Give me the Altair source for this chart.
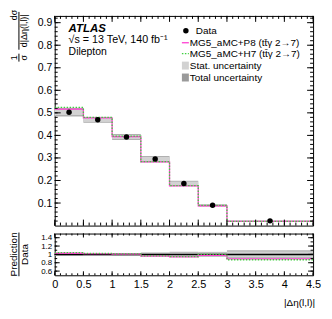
import altair as alt
import pandas as pd

# ---------------- data ----------------
edges = [0.0, 0.5, 1.0, 1.5, 2.0, 2.5, 3.0, 4.5]
data_vals = [0.503, 0.469, 0.393, 0.295, 0.187, 0.090, 0.021]
p8_vals = [0.517, 0.478, 0.395, 0.283, 0.176, 0.088, 0.0187]
h7_vals = [0.524, 0.480, 0.397, 0.284, 0.177, 0.090, 0.0183]
stat_rel = [0.025, 0.020, 0.022, 0.030, 0.042, 0.045, 0.070]
tot_rel = [0.038, 0.028, 0.034, 0.047, 0.063, 0.060, 0.100]

x_labels = [0, 0.5, 1, 1.5, 2, 2.5, 3, 3.5, 4, 4.5]
main_y_labels = [0.1, 0.2, 0.3, 0.4, 0.5, 0.6, 0.7, 0.8, 0.9]
ratio_y_labels = [0.6, 0.8, 1.0, 1.2, 1.4]
x_minor = [round(i * 0.1, 2) for i in range(46)]
main_y_minor = [round(i * 0.02, 2) for i in range(1, 47)]
ratio_y_minor = [round(0.5 + i * 0.1, 2) for i in range(1, 10)]

FONT = "Liberation Sans"
PINK = "#ff3fd2"
GREEN = "#3fcf3f"
STAT = "#d2d2d2"
TOT = "#b0b0b0"
W, H1, H2 = 260, 211, 42

lo = edges[:-1]
hi = edges[1:]
bins = pd.DataFrame({
    "lo": lo, "hi": hi,
    "c": [(a + b) / 2 for a, b in zip(lo, hi)],
    "data": data_vals,
    "tot_lo": [d * (1 - t) for d, t in zip(data_vals, tot_rel)],
    "tot_hi": [d * (1 + t) for d, t in zip(data_vals, tot_rel)],
    "stat_lo": [d * (1 - s) for d, s in zip(data_vals, stat_rel)],
    "stat_hi": [d * (1 + s) for d, s in zip(data_vals, stat_rel)],
    "rt_lo": [1 - t for t in tot_rel],
    "rt_hi": [1 + t for t in tot_rel],
    "rs_lo": [1 - s for s in stat_rel],
    "rs_hi": [1 + s for s in stat_rel],
})
step = pd.DataFrame({
    "x": edges,
    "p8": p8_vals + [p8_vals[-1]],
    "h7": h7_vals + [h7_vals[-1]],
    "rp8": [p / d for p, d in zip(p8_vals, data_vals)] + [p8_vals[-1] / data_vals[-1]],
    "rh7": [h / d for h, d in zip(h7_vals, data_vals)] + [h7_vals[-1] / data_vals[-1]],
})
one = pd.DataFrame({"a": [0]})

xs = alt.Scale(domain=[0, 4.5], nice=False, zero=False)
ys1 = alt.Scale(domain=[0, 0.93], nice=False, zero=False)
ys2 = alt.Scale(domain=[0.5, 1.5], nice=False, zero=False)

ax_main_y = alt.Axis(values=main_y_labels, format=".1f", ticks=False, domain=False, grid=False,
                     labelFontSize=10.5, labelPadding=3, title=None, labelFont=FONT, labelColor="black")
ax_ratio_y = alt.Axis(values=ratio_y_labels, format="~g", ticks=False, domain=False, grid=False,
                      labelFontSize=8, labelPadding=3, title=None, labelFont=FONT, labelColor="black")
ax_ratio_x = alt.Axis(values=x_labels, format="~g", ticks=False, domain=False, grid=False,
                      labelFontSize=11, labelPadding=3, title=None, labelFont=FONT, labelColor="black",
                      labelFlush=False)


def X1(f):
    return alt.X(f, type="quantitative", scale=xs, axis=None)


def X2(f):
    return alt.X(f, type="quantitative", scale=xs, axis=ax_ratio_x)


def Y1(f):
    return alt.Y(f, type="quantitative", scale=ys1, axis=ax_main_y)


def Y2(f):
    return alt.Y(f, type="quantitative", scale=ys2, axis=ax_ratio_y)


def txt(text, x, y, size=10, angle=0, align="center", **kw):
    return alt.Chart(one).mark_text(text=text, font=FONT, fontSize=size, angle=angle, align=align,
                                    baseline="middle", color="black", **kw).encode(
        x=alt.value(x), y=alt.value(y))


def hrule(x1, x2, y, color="black", width=1, dash=None):
    kw = {"strokeDash": dash} if dash else {}
    return alt.Chart(one).mark_rule(color=color, strokeWidth=width, **kw).encode(
        x=alt.value(x1), x2=alt.value(x2), y=alt.value(y))


def vrule(x, y1, y2, color="black", width=1):
    return alt.Chart(one).mark_rule(color=color, strokeWidth=width).encode(
        x=alt.value(x), y=alt.value(y1), y2=alt.value(y2))


def yticks(vals, Y, length):
    df = pd.DataFrame({"v": vals})
    base = alt.Chart(df).mark_rule(color="black", strokeWidth=1)
    return [base.encode(y=Y("v"), x=alt.value(0), x2=alt.value(length)),
            base.encode(y=Y("v"), x=alt.value(W), x2=alt.value(W - length))]


def xticks(vals, X, length, H):
    df = pd.DataFrame({"v": vals})
    base = alt.Chart(df).mark_rule(color="black", strokeWidth=1)
    return [base.encode(x=X("v"), y=alt.value(H), y2=alt.value(H - length)),
            base.encode(x=X("v"), y=alt.value(0), y2=alt.value(length))]


# ---------------- main panel ----------------
m_layers = [
    alt.Chart(bins).mark_rect(color=TOT).encode(x=X1("lo"), x2="hi", y=Y1("tot_lo"), y2="tot_hi"),
    alt.Chart(bins).mark_rect(color=STAT).encode(x=X1("lo"), x2="hi", y=Y1("stat_lo"), y2="stat_hi"),
    alt.Chart(step).mark_line(interpolate="step-after", color=PINK, strokeWidth=1.3).encode(x=X1("x"), y=Y1("p8")),
    alt.Chart(step).mark_line(interpolate="step-after", color=GREEN, strokeWidth=1.3, strokeDash=[1.5, 1.5]).encode(
        x=X1("x"), y=Y1("h7")),
    alt.Chart(bins).mark_circle(color="black", size=30, opacity=1).encode(x=X1("c"), y=Y1("data")),
]
m_layers += yticks(main_y_labels, Y1, 6)
m_layers += yticks(main_y_minor, Y1, 3)
m_layers += xticks(x_labels, X1, 6, H1)
m_layers += xticks(x_minor, X1, 3, H1)

# labels
m_layers += [
    txt("ATLAS", 14, 13, size=11.5, align="left", fontWeight="bold", fontStyle="italic"),
    txt("√s = 13 TeV, 140 fb⁻¹", 14, 24, size=10.8, align="left"),
    txt("Dilepton", 14, 36, size=10.5, align="left"),
]
# legend
LX0, LX1 = 128, 135
m_layers += [
    alt.Chart(one).mark_circle(color="black", size=30, opacity=1).encode(x=alt.value(132), y=alt.value(15)),
    txt("Data", 142, 15, size=10, align="left"),
    hrule(LX0, LX1, 27, color=PINK, width=1.3),
    txt("MG5_aMC+P8 (tt̄γ 2→7)", 136, 27, size=10, align="left"),
    hrule(LX0, LX1, 38, color=GREEN, width=1.3, dash=[1.5, 1.5]),
    txt("MG5_aMC+H7 (tt̄γ 2→7)", 136, 38, size=10, align="left"),
    alt.Chart(one).mark_rect(color=STAT).encode(x=alt.value(LX0), x2=alt.value(LX1),
                                                y=alt.value(46), y2=alt.value(54)),
    txt("Stat. uncertainty", 136, 50, size=10, align="left"),
    alt.Chart(one).mark_rect(color="#9a9a9a").encode(x=alt.value(LX0), x2=alt.value(LX1),
                                                      y=alt.value(58), y2=alt.value(66)),
    txt("Total uncertainty", 136, 62, size=10, align="left"),
]
# y title (fraction)
m_layers += [
    txt("dσ", -41, -1, size=9, angle=270),
    vrule(-36, -4, 34),
    txt("d|Δη(l,l)|", -31, 15, size=9, angle=270),
    txt("1", -41, 42, size=9, angle=270),
    vrule(-36, 38, 46),
    txt("σ", -31, 42, size=9, angle=270),
]

main = alt.layer(*m_layers).properties(width=W, height=H1)

# ---------------- ratio panel ----------------
unity = pd.DataFrame({"v": [1.0]})
r_layers = [
    alt.Chart(bins).mark_rect(color=TOT).encode(x=X2("lo"), x2="hi", y=Y2("rt_lo"), y2="rt_hi"),
    alt.Chart(bins).mark_rect(color=STAT).encode(x=X2("lo"), x2="hi", y=Y2("rs_lo"), y2="rs_hi"),
    alt.Chart(unity).mark_rule(color="black", strokeWidth=1.5).encode(y=Y2("v"), x=alt.value(0), x2=alt.value(W)),
    alt.Chart(step).mark_line(interpolate="step-after", color=PINK, strokeWidth=1.3).encode(x=X2("x"), y=Y2("rp8")),
    alt.Chart(step).mark_line(interpolate="step-after", color=GREEN, strokeWidth=1.3, strokeDash=[1.5, 1.5]).encode(
        x=X2("x"), y=Y2("rh7")),
]
r_layers += yticks(ratio_y_labels, Y2, 5)
r_layers += yticks(ratio_y_minor, Y2, 2.5)
r_layers += xticks(x_labels, X2, 4, H2)
r_layers += xticks(x_minor, X2, 2, H2)
r_layers += [
    txt("Prediction", -41, 21, size=10, angle=270),
    vrule(-36, -1, 43),
    txt("Data", -30, 21, size=10, angle=270),
    txt("|Δη(l,l)|", W + 2, 70, size=10, align="right"),
]
ratio = alt.layer(*r_layers).properties(width=W, height=H2)

chart = alt.vconcat(main, ratio, spacing=5).properties(
    padding={"left": 0, "top": 0, "right": 2, "bottom": 2}
).configure_view(stroke="black", strokeWidth=1).configure_axis(labelFont=FONT, labelColor="black")

chart.save("out.html", embed_options={"renderer": "svg", "actions": False})
